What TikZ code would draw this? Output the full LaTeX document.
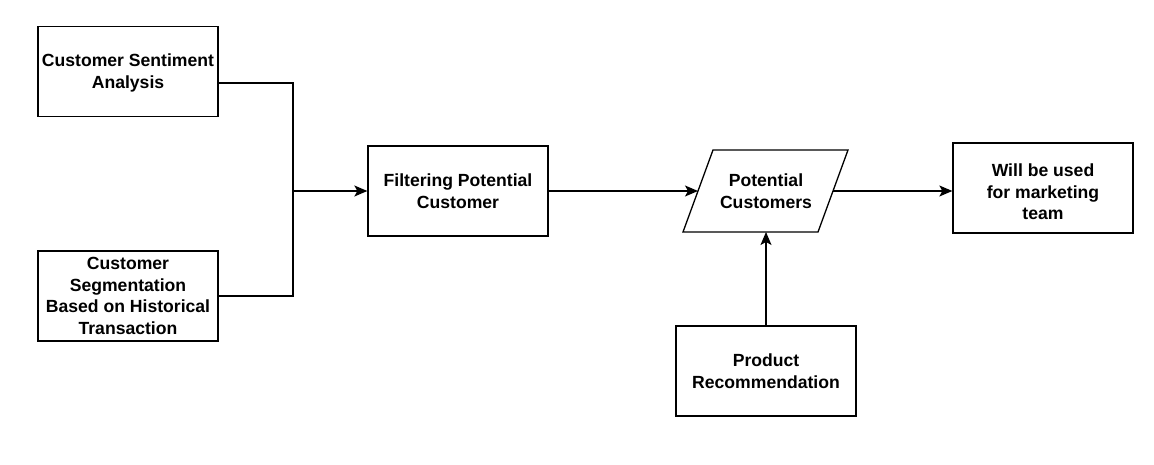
\documentclass[tikz,border=0pt]{standalone}
\usepackage{fontspec}
\setmainfont{Liberation Sans}
\usetikzlibrary{arrows.meta}
\begin{document}
\begin{tikzpicture}[x=1pt,y=-1pt,
  txt/.style={align=center,inner sep=0pt,font=\fontsize{17.6}{21.5}\selectfont\bfseries},
  box/.style={txt,draw,line width=1.3pt,minimum width=180pt,minimum height=90pt},
  conn/.style={line width=1.3pt},
  arr/.style={conn,-{Stealth[length=13pt,width=11pt,inset=3pt]}}]
\useasboundingbox (0,0) rectangle (1154,465);
\node[box] (sent) at (128,71.5) {};
\node[txt] (sentt) at (128,73) {Customer Sentiment\\Analysis};
\node[box] (seg) at (128,296) {Customer\\Segmentation\\Based on Historical\\Transaction};
\node[box] (filt) at (458,191) {Filtering Potential\\Customer};
\node[box] (will) at (1043,188) {};
\node[txt] (willt) at (1043,192) {Will be used\\for marketing\\team};
\node[box] (prod) at (766,371) {Product\\Recommendation};
\coordinate (p1) at (713,150);
\coordinate (p2) at (848,150);
\coordinate (p3) at (818,232);
\coordinate (p4) at (683,232);
\draw[line width=1.3pt] (p1) -- (p2) -- (p3) -- (p4) -- cycle;
\node[txt] (pot) at (766,191) {Potential\\Customers};
\coordinate (potL) at (698,191);
\coordinate (potR) at (833,191);
\coordinate (potB) at (766,232);
\coordinate (j) at (293,191);
\draw[conn] (sent.east |- 0,83) -| (j);
\draw[conn] (seg.east) -| (j);
\draw[arr] (j) -- (filt.west);
\draw[arr] (filt.east) -- (potL);
\draw[arr] (potR) -- (will.west |- potR);
\draw[arr] (prod.north) -- (potB);
\end{tikzpicture}
\end{document}
